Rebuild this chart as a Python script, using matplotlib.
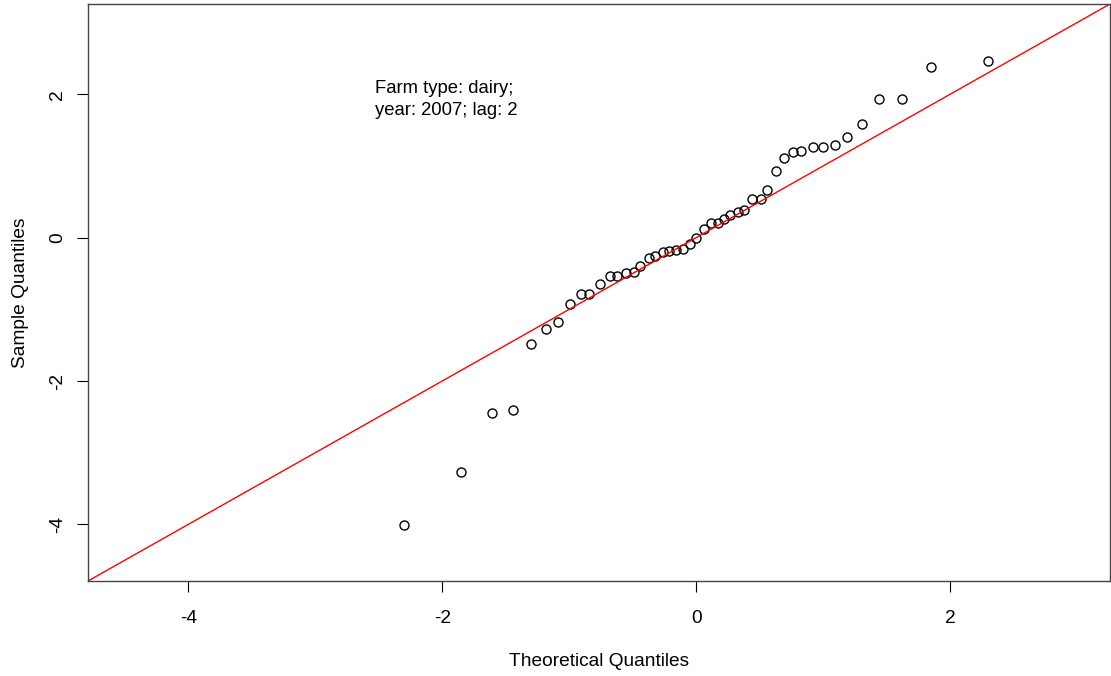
"""
Normal Q-Q plot: Farm type dairy, year 2007, lag 2
"""

import matplotlib
matplotlib.use('Agg')
import matplotlib.pyplot as plt

# 数据
theoretical = [-2.30, -1.85, -1.61, -1.44, -1.30, -1.18, -1.09, -0.99, -0.91, -0.84,
               -0.76, -0.68, -0.62, -0.55, -0.49, -0.44, -0.37, -0.32, -0.26, -0.21,
               -0.16, -0.10, -0.05, 0.00, 0.06, 0.12, 0.17, 0.22, 0.27, 0.33,
               0.38, 0.44, 0.51, 0.56, 0.63, 0.69, 0.76, 0.83, 0.92, 1.00,
               1.09, 1.19, 1.31, 1.44, 1.62, 1.85, 2.30]
sample = [-4.01, -3.27, -2.44, -2.41, -1.49, -1.28, -1.17, -0.93, -0.79, -0.79,
          -0.64, -0.54, -0.54, -0.49, -0.48, -0.39, -0.28, -0.26, -0.20, -0.19,
          -0.17, -0.16, -0.09, -0.01, 0.12, 0.21, 0.21, 0.26, 0.31, 0.36,
          0.39, 0.54, 0.54, 0.66, 0.93, 1.11, 1.19, 1.21, 1.26, 1.26,
          1.29, 1.41, 1.58, 1.93, 1.94, 2.38, 2.46]
line_intercept = 0.0
line_slope = 1.0
ticks = [-4, -2, 0, 2]
axis_range = (-4.79, 3.26)
annotation = "Farm type: dairy;\nyear: 2007; lag: 2"

plt.rcParams['font.family'] = ['Liberation Sans', 'DejaVu Sans']

fig = plt.figure(figsize=(11.11, 6.76), dpi=100)
ax = fig.add_axes([88 / 1111, 1 - 581 / 676, (1110 - 88) / 1111, (581 - 4) / 676])

# 散点
ax.plot(theoretical, sample, linestyle='none', marker='o', markersize=6.5,
        markerfacecolor='none', markeredgecolor='black', markeredgewidth=1.0)

# 参考线
x0, x1 = axis_range
ax.plot([x0, x1], [line_intercept + line_slope * x0, line_intercept + line_slope * x1],
        color='red', linewidth=1.0)

ax.set_xlim(axis_range)
ax.set_ylim(axis_range)
ax.set_xticks(ticks)
ax.set_yticks(ticks)
ax.set_xticklabels([str(t) for t in ticks])
ax.set_yticklabels([str(t) for t in ticks], rotation=90, va='center')
ax.tick_params(axis='both', direction='out', length=8, width=0.8, labelsize=13.8)
ax.tick_params(axis='x', pad=13)
ax.tick_params(axis='y', pad=8)

for s in ax.spines.values():
    s.set_color('#444444')
    s.set_linewidth(1.0)

ax.set_xlabel('Theoretical Quantiles', fontsize=13.8, labelpad=18.5)
ax.set_ylabel('Sample Quantiles', fontsize=13.8, labelpad=14)

ax.text(-2.53, 2.20, annotation, fontsize=13.3, va='top', ha='left', linespacing=1.35)

plt.savefig('out.png', dpi=100)
plt.close()
